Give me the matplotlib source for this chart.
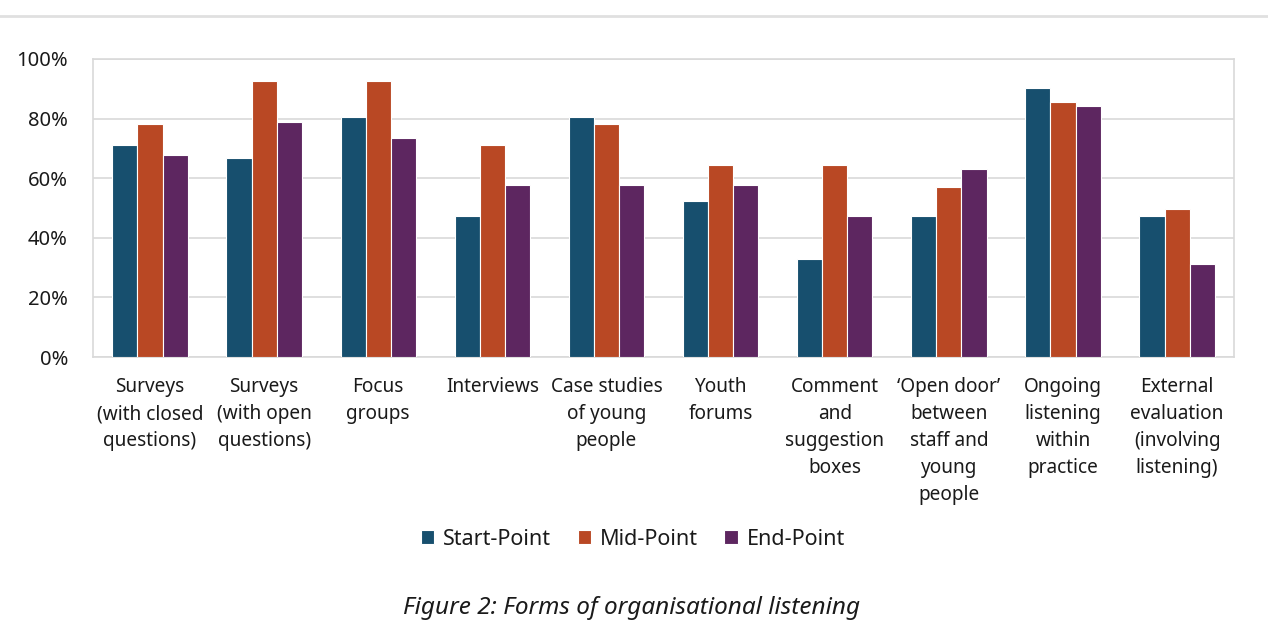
import numpy as np
import matplotlib
matplotlib.use("Agg")
import matplotlib.pyplot as plt
from matplotlib.lines import Line2D

plt.rcParams["font.family"] = ["Noto Sans", "DejaVu Sans"]

# Listening methods and share of organisations using each, per stage
categories = [
    "Surveys\n(with closed\nquestions)",
    "Surveys\n(with open\nquestions)",
    "Focus\ngroups",
    "Interviews",
    "Case studies\nof young\npeople",
    "Youth\nforums",
    "Comment\nand\nsuggestion\nboxes",
    "\u2018Open door\u2019\nbetween\nstaff and\nyoung\npeople",
    "Ongoing\nlistening\nwithin\npractice",
    "External\nevaluation\n(involving\nlistening)",
]
start_point = [71.0, 66.7, 80.6, 47.4, 80.6, 52.3, 32.9, 47.4, 90.3, 47.4]
mid_point = [78.3, 92.7, 92.7, 71.0, 78.3, 64.4, 64.4, 57.0, 85.4, 49.8]
end_point = [67.9, 78.8, 73.5, 57.7, 57.7, 57.7, 47.4, 63.0, 84.2, 31.1]
series_names = ["Start-Point", "Mid-Point", "End-Point"]
colors = ["#174f6e", "#b94824", "#5d2660"]

fig = plt.figure(figsize=(12.68, 6.41), dpi=100)
ax = fig.add_axes([0.0733, 0.443, 0.9, 0.465])

x = np.arange(len(categories))
width = 0.22
for i, (vals, name, col) in enumerate(zip([start_point, mid_point, end_point], series_names, colors)):
    ax.bar(x + (i - 1) * width, vals, width, color=col, label=name,
           edgecolor="white", linewidth=0.8, zorder=3)

ax.set_xlim(-0.5, len(categories) - 0.5)
ax.set_ylim(0, 100)
ax.set_yticks(range(0, 101, 20))
ax.set_yticklabels([f"{v}%" for v in range(0, 101, 20)], fontsize=14.5, color="#1a1a1a")
ax.set_xticks(x)
ax.set_xticklabels(categories, fontsize=13.7, color="#1a1a1a", linespacing=1.47, va="top")
ax.tick_params(axis="both", length=0)
ax.tick_params(axis="x", pad=14.5)
ax.tick_params(axis="y", pad=18)
ax.grid(axis="y", color="#d9d9d9", linewidth=1.2, zorder=0)
for side in ["top", "bottom", "left", "right"]:
    ax.spines[side].set_color("#d9d9d9")
    ax.spines[side].set_linewidth(1.2)

fig.legend(loc="center", bbox_to_anchor=(0.499, 0.159), ncol=3, frameon=False,
           fontsize=15.5, handlelength=0.62, handleheight=0.62, handletextpad=0.4,
           columnspacing=1.25, labelcolor="#1a1a1a")

fig.text(0.498, 0.051, "Figure 2: Forms of organisational listening", ha="center", va="center",
         fontsize=17.5, style="italic", color="#1a1a1a")

# thin rule across the top of the figure
fig.add_artist(Line2D([0, 1], [0.975, 0.975], transform=fig.transFigure,
                      color="#e0e0e0", linewidth=2))

fig.savefig("out.png", dpi=100)
